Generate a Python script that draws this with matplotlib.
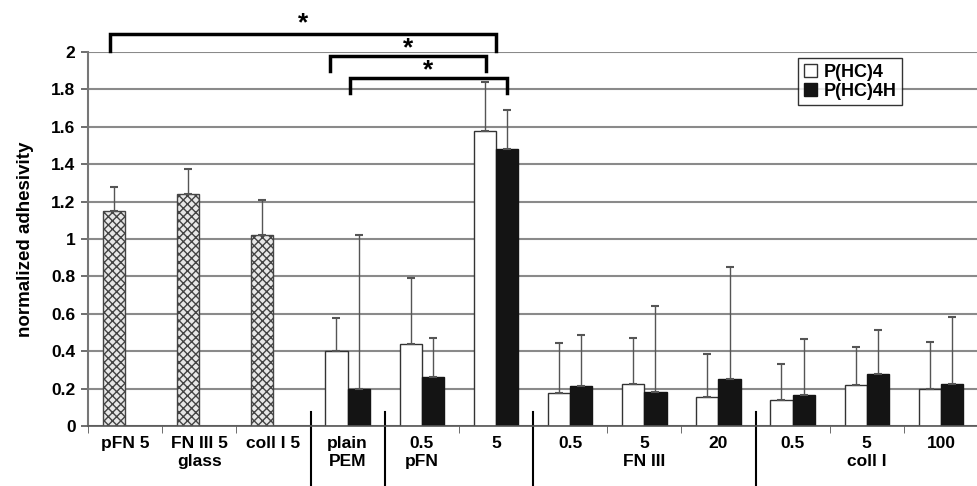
import matplotlib.pyplot as plt
import numpy as np

plt.rcParams['font.family'] = ['Liberation Sans', 'DejaVu Sans']
plt.rcParams['font.weight'] = 'bold'
plt.rcParams['hatch.color'] = '#555555'

labels = ['pFN 5', 'FN III 5\nglass', 'coll I 5', 'plain\nPEM', '0.5\npFN', '5',
          '0.5', '5\nFN III', '20', '0.5', '5\ncoll I', '100']

# glass controls (first three slots)
glass_vals = [1.15, 1.24, 1.02]
glass_err = [0.13, 0.135, 0.19]

# PEM series (slots 3..11)
phc4 = [0.40, 0.44, 1.58, 0.176, 0.227, 0.155, 0.137, 0.221, 0.20]
phc4_err = [0.18, 0.35, 0.26, 0.268, 0.246, 0.228, 0.197, 0.200, 0.249]
phc4h = [0.20, 0.26, 1.48, 0.212, 0.18, 0.251, 0.164, 0.28, 0.225]
phc4h_err = [0.82, 0.21, 0.21, 0.273, 0.464, 0.60, 0.30, 0.232, 0.358]

x = np.arange(len(labels))
w = 0.3
xg = x[:3]
xp = x[3:]

fig = plt.figure(figsize=(9.78, 4.86), dpi=100)
ax = fig.add_axes([0.09, 0.1235, 0.91, 0.7695])

ax.set_axisbelow(True)
ax.yaxis.grid(True, color='#8a8a8a', lw=1.5)

ekw = dict(ecolor='#555555', elinewidth=1.0, capsize=3, capthick=1.5)

ax.bar(xg - w / 2, glass_vals, w, color='#e8e8e8', edgecolor='#444444',
       hatch='xxxx', lw=1.0,
       yerr=[np.zeros(3), glass_err], error_kw=ekw)
ax.bar(xp - w / 2, phc4, w, color='white', edgecolor='#333333', lw=1.0,
       yerr=[np.zeros(len(phc4)), phc4_err], error_kw=ekw, label='P(HC)4')
ax.bar(xp + w / 2, phc4h, w, color='#141414', edgecolor='#141414', lw=1.0,
       yerr=[np.zeros(len(phc4h)), phc4h_err], error_kw=ekw, label='P(HC)4H')

ax.set_xlim(-0.5, len(labels) - 0.5)
ax.set_ylim(0, 2)
ax.set_yticks(np.arange(0, 2.01, 0.2))
ax.set_yticklabels(['0', '0.2', '0.4', '0.6', '0.8', '1', '1.2', '1.4', '1.6', '1.8', '2'],
                   fontsize=12.5, fontweight='bold')
ax.set_xticks(x)
ax.set_xticklabels(labels, fontsize=12.5, fontweight='bold', linespacing=1.3)
ax.tick_params(axis='x', length=0, pad=7)
ax.set_xticks(np.arange(-0.5, len(labels), 1.0), minor=True)
ax.tick_params(axis='x', which='minor', length=5, color='#555555', direction='out')
ax.tick_params(axis='y', length=5, color='#555555', width=1.2, pad=4)
ax.set_ylabel('normalized adhesivity', fontsize=13.5, fontweight='bold', labelpad=12)

for s in ['top', 'right']:
    ax.spines[s].set_visible(False)
ax.spines['left'].set_color('#777777')
ax.spines['left'].set_linewidth(1.5)
ax.spines['bottom'].set_color('#555555')
ax.spines['bottom'].set_linewidth(1.2)

# group separators below the axis
for sep in [2.5, 3.5, 5.5, 8.5]:
    ax.plot([sep, sep], [0.075, -0.32], color='black', lw=1.5, clip_on=False)

# significance brackets
brackets = [(-0.2, 5.0, 2.005, 2.096, 2.155),
            (2.76, 4.87, 1.90, 1.98, 2.02),
            (3.03, 5.15, 1.78, 1.86, 1.90)]
for x0, x1, yb, yt, ys in brackets:
    ax.plot([x0, x0, x1, x1], [yb, yt, yt, yb], color='black', lw=2.5,
            clip_on=False, solid_joinstyle='miter')
    ax.text((x0 + x1) / 2, ys, '*', ha='center', va='center', fontsize=19,
            fontweight='bold', clip_on=False)

leg = ax.legend(loc='upper left', bbox_to_anchor=(0.798, 0.983),
                prop={'weight': 'bold', 'size': 13}, frameon=True, fancybox=False,
                handlelength=0.75, handleheight=0.75, handletextpad=0.35,
                borderpad=0.3, labelspacing=0.1, borderaxespad=0)
leg.get_frame().set_edgecolor('black')
leg.get_frame().set_linewidth(1.0)

fig.savefig('out.png', dpi=100)
